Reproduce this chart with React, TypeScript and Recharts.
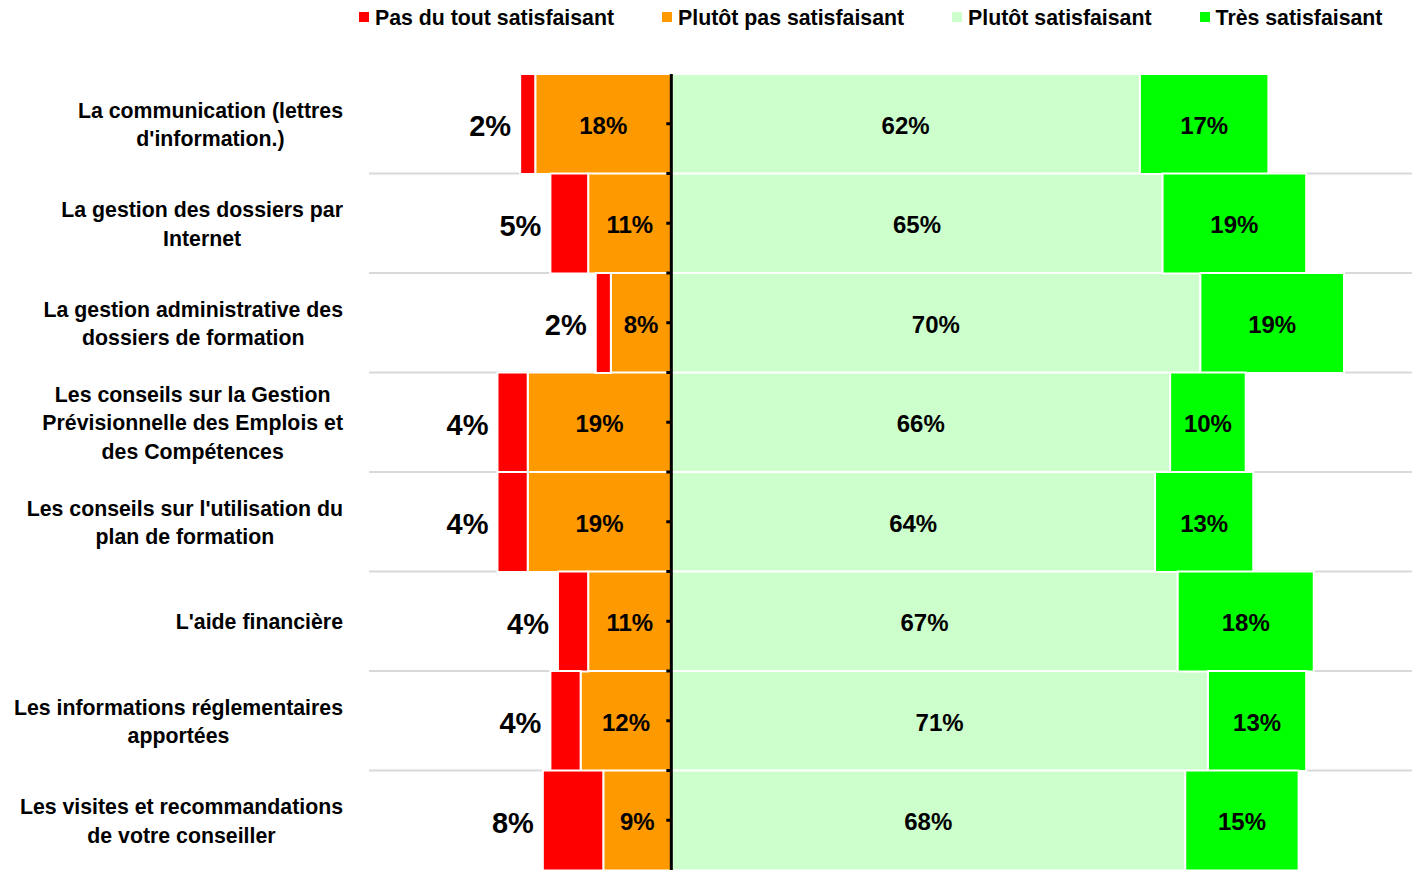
import {
  BarChart,
  Bar,
  XAxis,
  YAxis,
  CartesianGrid,
  ReferenceLine,
  LabelList,
  Legend,
} from "recharts"

const FONT = "'Liberation Sans', Arial, sans-serif"

const categories = [
  "La communication (lettres\nd'information.)",
  "La gestion des dossiers par\nInternet",
  "La gestion administrative des\ndossiers de formation",
  "Les conseils sur la Gestion\nPrévisionnelle des Emplois et\ndes Compétences",
  "Les conseils sur l'utilisation du\nplan de formation",
  "L'aide financière",
  "Les informations réglementaires\napportées",
  "Les visites et recommandations\nde votre conseiller",
]

const pasDuTout = [2, 5, 2, 4, 4, 4, 4, 8]
const plutotPas = [18, 11, 8, 19, 19, 11, 12, 9]
const plutot = [62, 65, 70, 66, 64, 67, 71, 68]
const tres = [17, 19, 19, 10, 13, 18, 13, 15]

const seriesNames = [
  "Pas du tout satisfaisant",
  "Plutôt pas satisfaisant",
  "Plutôt satisfaisant",
  "Très satisfaisant",
]
const seriesColors = ["#ff0000", "#ff9900", "#ccffcc", "#00ff00"]

// negatives go left of the zero line
const data = categories.map((name, i) => ({
  name,
  pasDuTout: -pasDuTout[i],
  plutotPas: -plutotPas[i],
  plutot: plutot[i],
  tres: tres[i],
}))

let ctx: CanvasRenderingContext2D | null = null
function measure(s: string, font: string) {
  if (!ctx) ctx = document.createElement("canvas").getContext("2d")
  if (!ctx) return s.length * 11
  ctx.font = font
  return ctx.measureText(s).width
}

function segValue(v: any) {
  if (Array.isArray(v)) return Math.round(Math.abs(v[1] - v[0]))
  return Math.abs(Number(v))
}

const CategoryTick = (props: any) => {
  const { x, y, payload } = props
  const lines = String(payload.value).split("\n")
  const maxW = Math.max(...lines.map((l) => measure(l, `bold 21.3px ${FONT}`)))
  const cx = x - maxW / 2
  const lh = 28.5
  const y0 = y + 1 - ((lines.length - 1) * lh) / 2
  return (
    <text
      textAnchor="middle"
      fontFamily={FONT}
      fontWeight="bold"
      fontSize={21.3}
      fill="#000"
    >
      {lines.map((l, i) => (
        <tspan key={i} x={cx} y={y0 + i * lh} dominantBaseline="central">
          {l}
        </tspan>
      ))}
    </text>
  )
}

const insideLabel = (props: any) => {
  const { x, y, width, height, value } = props
  return (
    <text
      x={Number(x) + Number(width) / 2}
      y={Number(y) + Number(height) / 2 + 1}
      textAnchor="middle"
      dominantBaseline="central"
      fontFamily={FONT}
      fontWeight="bold"
      fontSize={24}
      fill="#000"
    >
      {segValue(value)}%
    </text>
  )
}

const outsideLabel = (props: any) => {
  const { x, y, width, height, value } = props
  const left = Math.min(Number(x), Number(x) + Number(width))
  return (
    <text
      x={left - 9}
      y={Number(y) + Number(height) / 2 + 2}
      textAnchor="end"
      dominantBaseline="central"
      fontFamily={FONT}
      fontWeight="bold"
      fontSize={29}
      fill="#000"
    >
      {segValue(value)}%
    </text>
  )
}

const ZeroLine = (props: any) => {
  const { x1, y1, y2 } = props
  const top = Math.min(y1, y2)
  const bottom = Math.max(y1, y2)
  const n = categories.length * 2
  const step = (bottom - top) / n
  const ticks = []
  for (let i = 1; i < n; i++) {
    ticks.push(
      <line
        key={i}
        x1={x1 - 5}
        x2={x1}
        y1={top + i * step}
        y2={top + i * step}
        stroke="#000"
        strokeWidth={3}
      />
    )
  }
  return (
    <g>
      <line x1={x1} x2={x1} y1={top} y2={bottom} stroke="#000" strokeWidth={3} />
      {ticks}
    </g>
  )
}

const LegendContent = () => (
  <div
    style={{
      display: "flex",
      alignItems: "center",
      gap: 48,
      paddingLeft: 359,
      fontFamily: FONT,
      fontWeight: "bold",
      fontSize: 21.3,
      lineHeight: "21px",
      color: "#000",
    }}
  >
    {seriesNames.map((n, i) => (
      <div key={n} style={{ display: "flex", alignItems: "center" }}>
        <span
          style={{
            display: "inline-block",
            width: 10,
            height: 10,
            background: seriesColors[i],
            marginRight: 6,
            marginTop: -3,
          }}
        />
        {n}
      </div>
    ))}
  </div>
)

export default function App() {
  return (
    <div style={{ position: "absolute", left: 0, top: 0, background: "#fff" }}>
      <BarChart
        width={1412}
        height={870}
        data={data}
        layout="vertical"
        stackOffset="sign"
        barCategoryGap={0}
        margin={{ top: 74, right: 0, bottom: 0, left: 0 }}
        style={{ fontFamily: FONT }}
      >
        <CartesianGrid
          vertical={false}
          stroke="#d9d9d9"
          strokeWidth={2}
          horizontalCoordinatesGenerator={({ offset }: any) => {
            const top = offset?.top ?? 74
            const h = offset?.height ?? 796
            return categories
              .slice(1)
              .map((_, i) => top + ((i + 1) * h) / categories.length)
          }}
        />
        <XAxis type="number" domain={[-40, 98]} hide allowDataOverflow />
        <YAxis
          type="category"
          dataKey="name"
          width={369}
          axisLine={false}
          tickLine={false}
          tickSize={0}
          tickMargin={26}
          interval={0}
          tick={<CategoryTick />}
        />
        <Legend
          layout="horizontal"
          verticalAlign="middle"
          align="center"
          wrapperStyle={{ top: 8, left: 0, width: 1412 }}
          content={() => <LegendContent />}
        />
        <Bar
          dataKey="plutotPas"
          stackId="a"
          fill={seriesColors[1]}
          stroke="#fff"
          strokeWidth={2}
          isAnimationActive={false}
        >
          <LabelList dataKey="plutotPas" content={insideLabel} />
        </Bar>
        <Bar
          dataKey="pasDuTout"
          stackId="a"
          fill={seriesColors[0]}
          stroke="#fff"
          strokeWidth={2}
          isAnimationActive={false}
        >
          <LabelList dataKey="pasDuTout" content={outsideLabel} />
        </Bar>
        <Bar
          dataKey="plutot"
          stackId="a"
          fill={seriesColors[2]}
          stroke="#fff"
          strokeWidth={2}
          isAnimationActive={false}
        >
          <LabelList dataKey="plutot" content={insideLabel} />
        </Bar>
        <Bar
          dataKey="tres"
          stackId="a"
          fill={seriesColors[3]}
          stroke="#fff"
          strokeWidth={2}
          isAnimationActive={false}
        >
          <LabelList dataKey="tres" content={insideLabel} />
        </Bar>
        <ReferenceLine x={0} shape={<ZeroLine />} />
      </BarChart>
    </div>
  )
}
